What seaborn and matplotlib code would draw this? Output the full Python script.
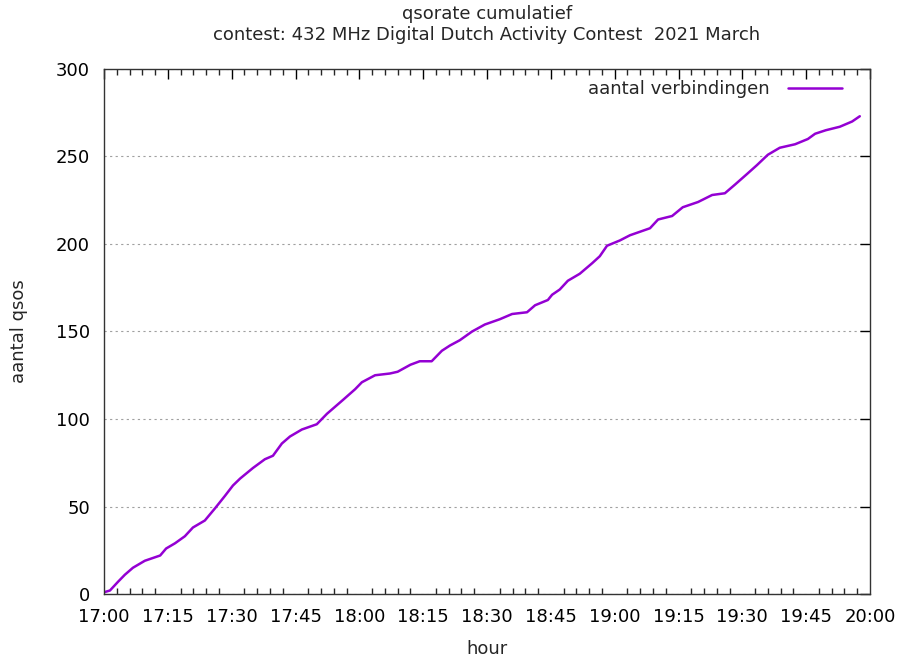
import pandas as pd
import numpy as np
import matplotlib
matplotlib.use("Agg")
import matplotlib.pyplot as plt
import matplotlib.dates as mdates
import seaborn as sns

# qso times and cumulative count
times = ["17:00:00", "17:01:24", "17:03:18", "17:04:54", "17:06:48", "17:09:36",
         "17:13:12", "17:14:36", "17:16:42", "17:19:00", "17:20:54", "17:23:42",
         "17:26:06", "17:28:24", "17:30:18", "17:32:00", "17:35:00", "17:37:48",
         "17:39:42", "17:41:48", "17:43:42", "17:46:30", "17:50:00", "17:52:24",
         "17:56:12", "17:59:00", "18:00:36", "18:03:42", "18:07:12", "18:09:00",
         "18:12:00", "18:14:12", "18:17:00", "18:19:24", "18:21:18", "18:23:36",
         "18:26:30", "18:29:30", "18:33:00", "18:35:54", "18:39:24", "18:41:18",
         "18:44:18", "18:45:18", "18:47:06", "18:49:00", "18:51:48", "18:54:42",
         "18:56:30", "18:58:12", "19:01:12", "19:03:36", "19:08:18", "19:10:12",
         "19:13:30", "19:16:00", "19:19:36", "19:22:54", "19:25:54", "19:28:18",
         "19:31:06", "19:33:24", "19:36:00", "19:38:48", "19:42:24", "19:45:24",
         "19:47:06", "19:49:36", "19:52:54", "19:55:48", "19:57:36"]
qsos = [1, 2, 7, 11, 15, 19,
        22, 26, 29, 33, 38, 42,
        49, 56, 62, 66, 72, 77,
        79, 86, 90, 94, 97, 103,
        111, 117, 121, 125, 126, 127,
        131, 133, 133, 139, 142, 145,
        150, 154, 157, 160, 161, 165,
        168, 171, 174, 179, 183, 189,
        193, 199, 202, 205, 209, 214,
        216, 221, 224, 228, 229, 234,
        240, 245, 251, 255, 257, 260,
        263, 265, 267, 270, 273]

df = pd.DataFrame({"hour": pd.to_datetime("2021-03-01 " + pd.Series(times)),
                   "aantal": qsos})

sns.set_style("white")
plt.rcParams['font.family'] = ['DejaVu Sans']

fig = plt.figure(figsize=(8.98, 6.6), dpi=100)
ax = fig.add_axes([104/898, 66/660, 766/898, 525/660])

sns.lineplot(data=df, x="hour", y="aantal", color="#9400D3", linewidth=1.8,
             label="aantal verbindingen", ax=ax)

start = pd.Timestamp("2021-03-01 17:00")
end = pd.Timestamp("2021-03-01 20:00")
ax.set_xlim(start, end)
ax.set_ylim(0, 300)
ax.xaxis.set_major_locator(mdates.MinuteLocator(byminute=[0, 15, 30, 45]))
ax.xaxis.set_minor_locator(mdates.MinuteLocator(byminute=range(0, 60, 3)))
ax.xaxis.set_major_formatter(mdates.DateFormatter("%H:%M"))
ax.set_yticks([0, 50, 100, 150, 200, 250, 300])

ax.tick_params(axis="both", which="major", direction="in", length=7, width=1,
               top=True, right=True, labelsize=13, colors="black", pad=10)
ax.tick_params(axis="x", which="minor", direction="in", length=4, width=1,
               top=True, bottom=True)
for s in ax.spines.values():
    s.set_color("#333333")
    s.set_linewidth(1)

ax.grid(axis="y", linestyle=(0, (2, 3)), color="#a0a0a0", linewidth=0.8)
ax.grid(axis="x", visible=False)

ax.set_xlabel("hour", fontsize=13, labelpad=10)
ax.set_ylabel("aantal qsos", fontsize=13, labelpad=20)
ax.set_title("qsorate cumulatief\ncontest: 432 MHz Digital Dutch Activity Contest  2021 March",
             fontsize=13, pad=21)

ax.legend(loc="upper right", bbox_to_anchor=(0.985, 1.01), frameon=False,
          markerfirst=False, handlelength=3.0, handletextpad=1.0, fontsize=13)

fig.savefig("out.png", dpi=100)
